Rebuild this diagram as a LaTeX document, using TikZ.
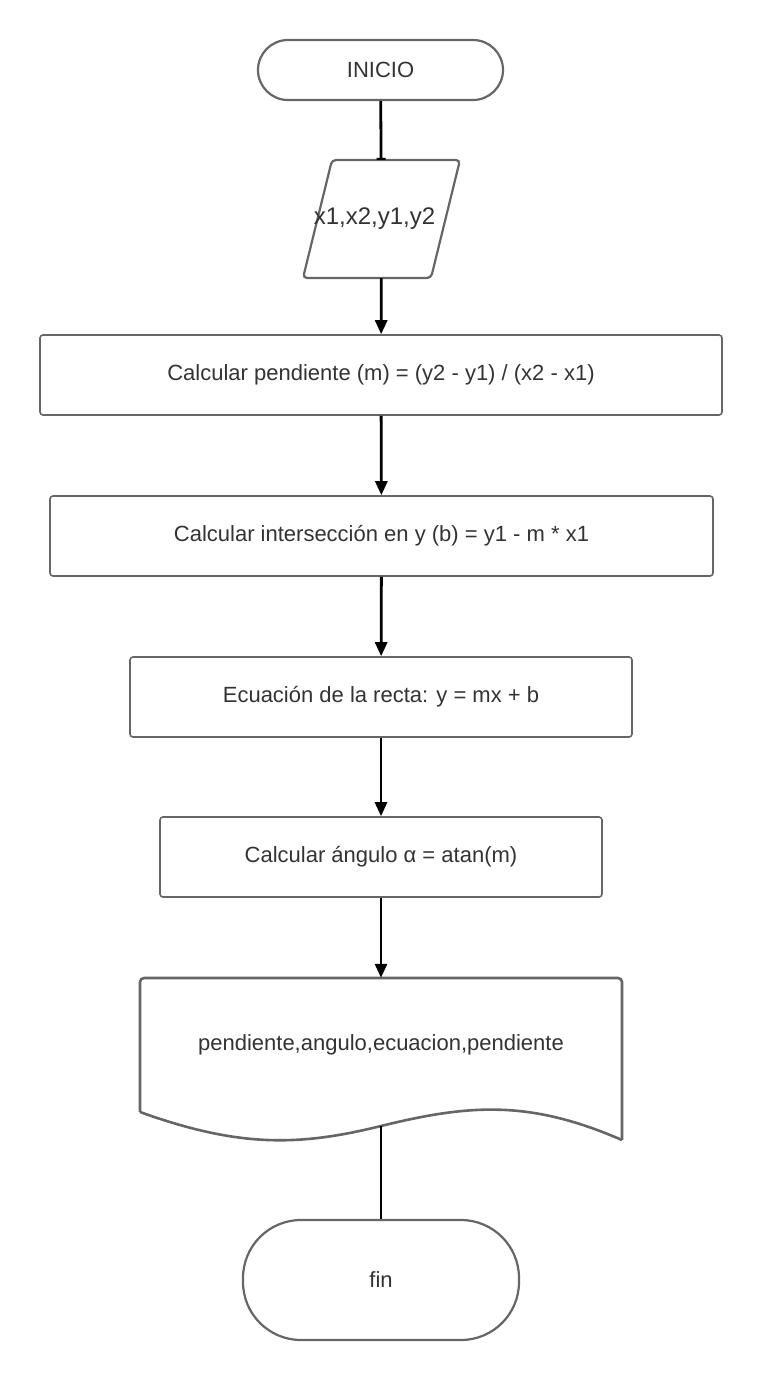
\documentclass[tikz,border=0pt]{standalone}
\usepackage{fontspec}
\setmainfont{Liberation Sans}
\usetikzlibrary{arrows.meta}
\definecolor{edge}{HTML}{666666}
\definecolor{txt}{HTML}{333333}
\tikzset{
	box/.style = {draw = edge, line width = 1.6pt, rounded corners = 3pt, fill = white, minimum height = 80pt, text = txt},
	term/.style = {draw = edge, line width = 2.2pt, fill = white, text = txt},
	flow/.style = {line width = 2.8pt, -{Triangle[length = 14pt, width = 12pt]}},
}
\begin{document}
\begin{tikzpicture}[x = 1pt, y = -1pt, font = \fontsize{22}{26}\selectfont]
					\useasboundingbox (0, 0) rectangle (762, 1378);
					\node[term, rounded corners = 30pt, minimum width = 245pt, minimum height = 60pt] (inicio) at (380.5, 70) {INICIO};
					\node[text = txt, minimum width = 100pt, minimum height = 118pt, inner sep = 0pt] (datos) at (381.5, 219) {};
					\draw[term, rounded corners = 4pt] (332, 160) -- (460, 160) -- (431, 278) -- (303, 278) -- cycle;
					\node[text = txt, font = \fontsize{24}{28}\selectfont] at ([xshift = -7pt]datos) {x1,x2,y1,y2};
					\node[box, minimum width = 682pt] (pend) at (381, 375) {Calcular pendiente (m) = (y2 - y1) / (x2 - x1)};
					\node[box, minimum width = 663pt] (inter) at (381.5, 536) {Calcular intersección en y (b) = y1 - m * x1};
					\node[box, minimum width = 502pt] (recta) at (381, 697) {Ecuación de la recta: y = mx + b};
					\node[box, minimum width = 442pt] (ang) at (381, 857) {Calcular ángulo α = atan(m)};
					\node[minimum width = 482pt, minimum height = 134pt, inner sep = 0pt] (salida) at (381, 1045) {};
					\draw[term, line width = 2.6pt, rounded corners = 4pt] (140, 1112) -- (140, 978) -- (622, 978) -- (622, 1140);
					\draw[term, line width = 2.6pt] (622, 1140) .. controls (530, 1100) and (470, 1104) .. (381, 1126) .. controls (300, 1146) and (240, 1148) .. (140, 1112);
					\coordinate (onda) at (381, 1126);
					\node[text = txt] at (salida) {pendiente,angulo,ecuacion,pendiente};
					\node[term, rounded corners = 58pt, minimum width = 276pt, minimum height = 120pt] (fin) at (381, 1280) {fin};
					\draw[line width = 2.8pt, -{Bar[width = 9pt, line width = 2pt]}] (inicio) -- (datos);
					\draw[flow] (datos) -- (pend);
					\draw[flow] (pend) -- (inter);
					\draw[flow] (inter) -- (recta);
					\draw[flow] (recta) -- (ang);
					\draw[flow] (ang) -- (salida);
					\draw[line width = 2.8pt] (onda) -- (fin);
				\end{tikzpicture}
\end{document}
